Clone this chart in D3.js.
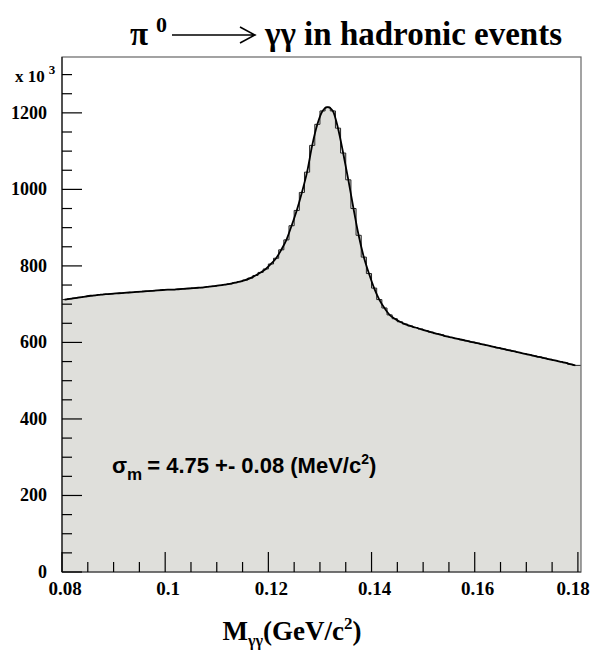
<!DOCTYPE html>
<html>
<head>
<meta charset="utf-8">
<script src="https://cdn.jsdelivr.net/npm/d3@7"></script>
<style>
  body { margin: 0; background: #fff; }
  text { font-family: "Liberation Serif", "Times New Roman", serif; font-weight: bold; }
</style>
</head>
<body>
<div id="chart-area"></div>
<script>
// pi0 -> gamma gamma mass histogram, 1 MeV bins from 0.080 to 0.180 GeV
var binLow = 0.08;
var binWidth = 0.001;
var counts = [
  712, 714, 716, 718, 720, 722, 723, 725, 726, 727,
  728, 729, 730, 731, 732, 733, 734, 735, 736, 737,
  738, 738, 739, 740, 741, 742, 743, 744, 746, 747,
  749, 751, 753, 756, 759, 763, 768, 775, 783, 792,
  805, 820, 842, 868, 905, 945, 992, 1045, 1115, 1170,
  1205, 1215, 1205, 1160, 1095, 1025, 950, 880, 823, 780,
  742, 712, 690, 672, 662, 654, 648, 643, 639, 635,
  631, 627, 623, 620, 616, 613, 610, 607, 604, 601,
  598, 595, 592, 589, 586, 583, 580, 577, 574, 571,
  568, 565, 562, 559, 556, 553, 550, 547, 543, 540
];
var xMajor = [0.08, 0.1, 0.12, 0.14, 0.16, 0.18];
var xLabels = ["0.08", "0.1", "0.12", "0.14", "0.16", "0.18"];
var yMajor = [0, 200, 400, 600, 800, 1000, 1200];

var margin = {top: 57, right: 10, bottom: 81, left: 62};
var width = 591 - margin.left - margin.right;
var height = 653 - margin.top - margin.bottom;

var svg = d3.select("#chart-area")
  .append("svg")
    .attr("width", 591)
    .attr("height", 653);

var g = svg.append("g")
    .attr("transform", "translate(" + margin.left + "," + margin.top + ")");

var x = d3.scaleLinear()
  .domain([0.08, 0.1806])
  .range([0, width]);

var y = d3.scaleLinear()
  .domain([0, 1346])
  .range([height, 0]);

var bins = counts.map((c, i) => { return {lo: binLow + i * binWidth, c: c}; });
var steps = bins.concat([{lo: x.domain()[1], c: counts[counts.length - 1]}]);

// filled histogram
g.append("path")
  .datum(steps)
  .attr("fill", "#dfdfdb")
  .attr("d", d3.area()
    .curve(d3.curveStepAfter)
    .x((d) => x(d.lo))
    .y0(y(0))
    .y1((d) => y(d.c)));

g.append("path")
  .datum(steps)
  .attr("fill", "none")
  .attr("stroke", "#222")
  .attr("stroke-width", 1)
  .attr("d", d3.line()
    .curve(d3.curveStepAfter)
    .x((d) => x(d.lo))
    .y((d) => y(d.c)));

// fit curve through bin centres
g.append("path")
  .datum(bins)
  .attr("fill", "none")
  .attr("stroke", "#000")
  .attr("stroke-width", 1.8)
  .attr("d", d3.line()
    .curve(d3.curveMonotoneX)
    .x((d) => x(d.lo + binWidth / 2))
    .y((d) => y(d.c)));

// frame
g.append("rect")
  .attr("width", width)
  .attr("height", height)
  .attr("fill", "none")
  .attr("stroke", "#666")
  .attr("stroke-width", 1.2);

g.append("line")
  .attr("x1", 0).attr("x2", 0)
  .attr("y1", 0).attr("y2", height)
  .attr("stroke", "#000");
g.append("line")
  .attr("x1", 0).attr("x2", width)
  .attr("y1", height).attr("y2", height)
  .attr("stroke", "#444");

// ticks drawn inside the frame
var xTicks = d3.range(0, 21).map((i) => 0.08 + i * 0.005);
var yTicks = d3.range(0, 27).map((i) => i * 50);

g.selectAll(".xtick")
  .data(xTicks)
  .enter().append("line")
    .attr("class", "xtick")
    .attr("x1", (d) => x(d))
    .attr("x2", (d) => x(d))
    .attr("y1", height)
    .attr("y2", (d, i) => height - (i % 4 == 0 ? 20 : 10))
    .attr("stroke", "#000")
    .attr("stroke-width", 1.2);

g.selectAll(".ytick")
  .data(yTicks)
  .enter().append("line")
    .attr("class", "ytick")
    .attr("y1", (d) => y(d))
    .attr("y2", (d) => y(d))
    .attr("x1", 0)
    .attr("x2", (d, i) => (i % 4 == 0 ? 20 : 10))
    .attr("stroke", "#000")
    .attr("stroke-width", 1.2);

g.selectAll(".xlab")
  .data(xMajor)
  .enter().append("text")
    .attr("class", "xlab")
    .attr("x", (d) => Math.min(x(d) + 3, width - 8))
    .attr("y", height + 23)
    .attr("text-anchor", "middle")
    .attr("font-size", "19px")
    .text((d, i) => xLabels[i]);

g.selectAll(".ylab")
  .data(yMajor)
  .enter().append("text")
    .attr("class", "ylab")
    .attr("x", -15)
    .attr("y", (d) => y(d) + 6)
    .attr("text-anchor", "end")
    .attr("font-size", "18px")
    .text((d) => d);

// exponent of y axis
var expo = svg.append("text")
  .attr("x", 15)
  .attr("y", 82)
  .attr("font-size", "17px");
expo.append("tspan").text("x 10");
expo.append("tspan").attr("dx", 4).attr("dy", -8).attr("font-size", "13px").text("3");

// title
var title = svg.append("text")
  .attr("y", 45)
  .attr("font-size", "33px");
title.append("tspan").attr("x", 130).text("π");
title.append("tspan").attr("x", 156).attr("dy", -13).attr("font-size", "22px").text("0");
title.append("tspan").attr("x", 265).attr("dy", 13).text("γγ in hadronic events");

// long arrow of the title
svg.append("path")
  .attr("d", "M172,35H255M240,27L255,35L240,43")
  .attr("fill", "none")
  .attr("stroke", "#000")
  .attr("stroke-width", 1.6);

// x axis title
var xt = svg.append("text")
  .attr("x", 292)
  .attr("y", 640)
  .attr("text-anchor", "middle")
  .attr("font-size", "27px");
xt.append("tspan").text("M");
xt.append("tspan").attr("dy", 6).attr("font-size", "16px").text("γγ");
xt.append("tspan").attr("dy", -6).text("(GeV/c");
xt.append("tspan").attr("dy", -11).attr("font-size", "17px").text("2");
xt.append("tspan").attr("dy", 11).text(")");

// resolution note
var note = svg.append("text")
  .attr("x", 112)
  .attr("y", 473)
  .style("font-family", "'Liberation Sans', Arial, sans-serif")
  .attr("font-size", "22px");
note.append("tspan").text("σ");
note.append("tspan").attr("dy", 7).attr("font-size", "17px").text("m");
note.append("tspan").attr("dy", -7).attr("dx", 5).text("= 4.75 +- 0.08 (MeV/c");
note.append("tspan").attr("dy", -9).attr("font-size", "14px").text("2");
note.append("tspan").attr("dy", 9).text(")");
</script>
</body>
</html>
